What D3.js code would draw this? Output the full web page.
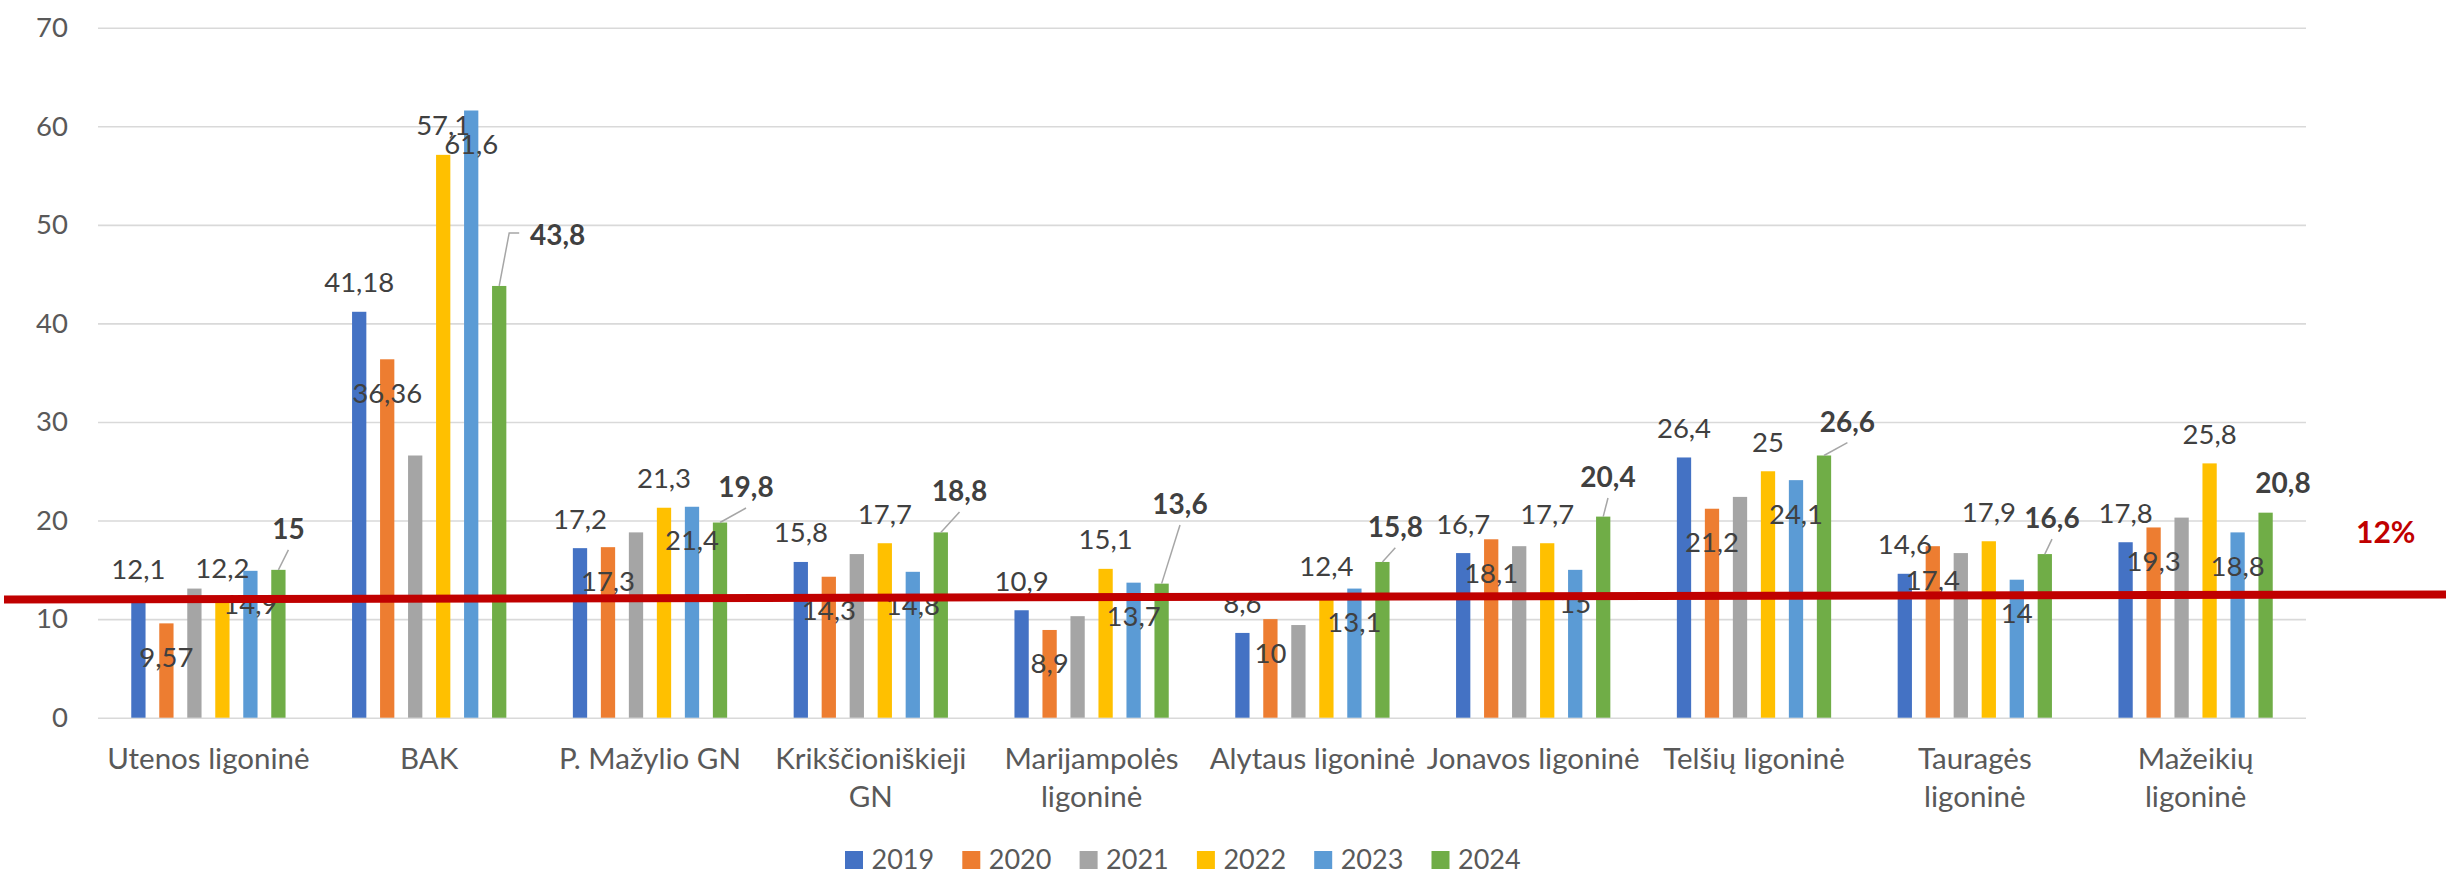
<!DOCTYPE html>
<html><head><meta charset="utf-8">
<script src="https://cdn.jsdelivr.net/npm/d3@7"></script>
<style>
body{margin:0;background:#fff;}
svg{display:block;font-family:Lato,"Open Sans",sans-serif;}
</style>
</head><body>
<svg id="c" width="2446" height="873"></svg>
<script>
// ---- data ----
const categories = ["Utenos ligoninė","BAK","P. Mažylio GN","Krikščioniškieji\nGN","Marijampolės\nligoninė","Alytaus ligoninė","Jonavos ligoninė","Telšių ligoninė","Tauragės\nligoninė","Mažeikių\nligoninė"];
const years = ["2019","2020","2021","2022","2023","2024"];
const v2019 = [12.1, 41.18, 17.2, 15.8, 10.9, 8.6, 16.7, 26.4, 14.6, 17.8];
const v2020 = [9.57, 36.36, 17.3, 14.3, 8.9, 10, 18.1, 21.2, 17.4, 19.3];
const v2021 = [13.1, 26.6, 18.8, 16.6, 10.3, 9.4, 17.4, 22.4, 16.7, 20.3];
const v2022 = [12.2, 57.1, 21.3, 17.7, 15.1, 12.4, 17.7, 25, 17.9, 25.8];
const v2023 = [14.9, 61.6, 21.4, 14.8, 13.7, 13.1, 15, 24.1, 14, 18.8];
const v2024 = [15, 43.8, 19.8, 18.8, 13.6, 15.8, 20.4, 26.6, 16.6, 20.8];
const seriesValues = [v2019, v2020, v2021, v2022, v2023, v2024];
const yTicks = [0, 10, 20, 30, 40, 50, 60, 70];
const thresholdStart = 12, thresholdEnd = 12.5;
const thresholdLabel = "12%";

// ---- styling / placement (not data) ----
const colors = ["#4472C4","#ED7D31","#A5A5A5","#FFC000","#5B9BD5","#70AD47"];
const labelPlacement = ["above","below",null,"above","below","callout"];
const calloutOffsets = [[10,-41],[58.5,-51],[26,-35.5],[18.7,-41.4],[18.4,-79.6],[12.9,-35.2],[4.8,-39.6],[23.4,-33.8],[7.2,-36],[17.4,-29.4]];

const L = 98, R = 2306, B = 717.7, T = 27.7;
const svg = d3.select("#c");
const x0 = d3.scaleBand().domain(categories).range([L, R]);
const x1 = d3.scaleBand().domain(years).range([-84, 84]).paddingInner(0.49).paddingOuter(0.245);
const y = d3.scaleLinear().domain([0, 70]).range([B, T]);
const fmt = v => String(v).replace(".", ",");

// gridlines
const grid = svg.append("g").attr("transform", `translate(${L},0)`)
  .call(d3.axisLeft(y).tickValues(yTicks).tickSize(-(R - L)).tickFormat(""));
grid.select(".domain").remove();
grid.selectAll("line").attr("stroke", "#d9d9d9").attr("stroke-width", 1.6);

// y tick labels
const ya = svg.append("g").attr("transform", `translate(${L},0)`)
  .call(d3.axisLeft(y).tickValues(yTicks).tickSize(0).tickPadding(30));
ya.select(".domain").remove();
ya.selectAll("text").attr("font-size", 27.5).attr("fill", "#595959").style("font-family", "Lato");

// x category labels
const xa = svg.append("g").attr("transform", `translate(0,${B})`)
  .call(d3.axisBottom(x0).tickSize(0));
xa.select(".domain").remove();
xa.selectAll("text").each(function(d) {
  const t = d3.select(this);
  t.text(null).attr("y", 0).attr("dy", null)
    .attr("font-size", 29.5).attr("fill", "#595959").style("font-family", "Lato");
  d.split("\n").forEach((line, i) => {
    t.append("tspan").attr("x", 0).attr("y", 51.6 + i * 38).text(line);
  });
});

// bars
const groups = svg.append("g").selectAll("g").data(categories).join("g")
  .attr("transform", c => `translate(${x0(c) + x0.bandwidth() / 2},0)`);

years.forEach((yr, si) => {
  groups.append("rect")
    .attr("x", x1(yr))
    .attr("width", x1.bandwidth())
    .attr("y", (c, ci) => y(seriesValues[si][ci]))
    .attr("height", (c, ci) => B - y(seriesValues[si][ci]))
    .attr("fill", colors[si]);
});

// data labels
years.forEach((yr, si) => {
  const p = labelPlacement[si];
  if (!p) return;
  groups.each(function(c, ci) {
    const g = d3.select(this);
    const v = seriesValues[si][ci];
    const bx = x1(yr) + x1.bandwidth() / 2;
    const by = y(v);
    if (p === "callout") {
      const [dx, dy] = calloutOffsets[ci];
      if (dy < -31) {
        let pts;
        if (dx > 40) pts = [[bx, by], [bx + dx - 48.5, by + dy - 2], [bx + dx - 38.5, by + dy - 2]];
        else pts = [[bx, by], [bx + dx, by + dy + 21]];
        g.append("path").attr("d", d3.line()(pts)).attr("fill", "none")
          .attr("stroke", "#a6a6a6").attr("stroke-width", 1.5);
      }
      g.append("text").attr("x", bx + dx).attr("y", by + dy + 10)
        .attr("text-anchor", "middle").attr("font-size", 28).attr("font-weight", "bold")
        .attr("fill", "#404040").text(fmt(v));
    } else {
      g.append("text").attr("x", bx).attr("y", by + (p === "above" ? -19.5 : 43.5))
        .attr("text-anchor", "middle").attr("font-size", 27.5)
        .attr("fill", "#404040").text(fmt(v));
    }
  });
});

// threshold line
svg.append("line")
  .attr("x1", 4).attr("x2", 2446)
  .attr("y1", y(thresholdStart)).attr("y2", y(thresholdEnd))
  .attr("stroke", "#C00000").attr("stroke-width", 8);
svg.append("text").attr("x", 2356).attr("y", 542.7)
  .attr("font-size", 30).attr("font-weight", "bold").attr("fill", "#C00000")
  .text(thresholdLabel);

// legend
const lg = svg.append("g").selectAll("g").data(years).join("g")
  .attr("transform", (d, i) => `translate(${845 + i * 117.3},0)`);
lg.append("rect").attr("x", 0).attr("y", 851).attr("width", 18).attr("height", 18)
  .attr("fill", (d, i) => colors[i]);
lg.append("text").attr("x", 26.5).attr("y", 869).attr("font-size", 27)
  .attr("fill", "#595959").text(d => d);
</script>
</body></html>
